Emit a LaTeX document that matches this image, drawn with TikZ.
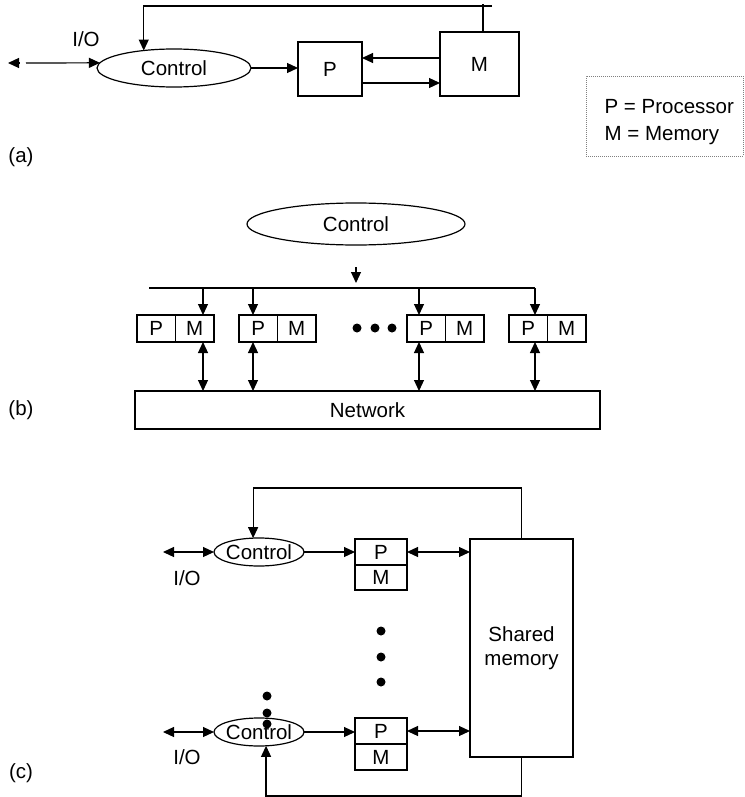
\documentclass[tikz,border=0pt]{standalone}
\usepackage{fontspec}
\setmainfont{Liberation Sans}
\usetikzlibrary{arrows.meta,shapes.geometric}
\begin{document}
\begin{tikzpicture}[x=1pt,y=-1pt,
  font=\fontsize{20.5}{24}\selectfont,
  line width=1.2pt,
  >={Triangle[length=11pt,width=10pt]},
  box/.style={draw, inner sep=0pt, outer sep=0pt},
  ctl/.style={ellipse, draw, inner sep=0pt, outer sep=0pt, label={center:Control}},
  dot/.style={circle, fill, inner sep=0pt, minimum size=9pt}]
\useasboundingbox (0,0) rectangle (744,797);

% ---------------- (a) single processor ----------------
\node[ctl, minimum width=154pt, minimum height=38pt] (ca) at (174,68) {};
\node[box, minimum width=64pt, minimum height=54pt] (pa) at (330,69) {P};
\node[box, minimum width=79pt, minimum height=64pt] (ma) at (479.5,64) {M};
\node (ioa) at (86,39) {I/O};
\node (la) at (21,157) {(a)};
\coordinate (ioatip) at (8,63);
\coordinate (ioabase) at (19,63);
\coordinate (ioastart) at (26,63);
\coordinate (fbend) at (492,6);
\draw[->] (ioabase) -- (ioatip);
\draw[->] (ioastart) -- (ca.176);
\draw[->] (ca.east) -- (ca.east -| pa.west);
\draw[->] ([yshift=6pt]ma.west) -- ([yshift=6pt]ma.west -| pa.east);
\draw[->] ([yshift=-19pt]ma.west -| pa.east) -- ([yshift=-19pt]ma.west);
\draw ([xshift=3.5pt]ma.north) -- ++(0,-28);
\draw[->] (fbend) -| (ca.150);

% key
\node[draw=gray, dash pattern=on 0.8pt off 1.2pt, line width=0.9pt,
      minimum width=157pt, minimum height=80pt, inner sep=0pt] (key) at (664.5,116) {};
\node[align=left, font=\fontsize{20.5}{27}\selectfont, anchor=west, inner sep=0pt]
      (keytext) at (604,122.3) {P = Processor\\M = Memory};

% ---------------- (b) array of PM pairs ----------------
\node[ctl, minimum width=218pt, minimum height=42pt] (cb) at (356,224) {};
\coordinate (cbstart) at (356,267);
\coordinate (cbtip) at (356,283);
\draw[->] (cbstart) -- (cbtip);
\coordinate (busl) at (149,288);
\coordinate (busr) at (535,288);
\draw (busl) -- (busr);
\foreach \i/\l in {1/137,2/239,3/407,4/509} {
  \node[box, minimum width=38.5pt, minimum height=27pt] (p\i) at (\l+19.25,328.5) {P};
  \node[box, minimum width=38.5pt, minimum height=27pt] (m\i) at (\l+57.75,328.5) {M};
}
\node[box, minimum width=465pt, minimum height=38pt] (net) at (367.5,410) {Network};
\foreach \n/\x in {m1/203, p2/253, p3/419, p4/535} {
  \coordinate (d\n) at (\x,288);
  \draw[->] (d\n) -- (d\n |- \n.north);
  \draw[<->] (d\n |- \n.south) -- (d\n |- net.north);
}
\node[dot] (db1) at (357,328) {};
\node[dot] (db2) at (375,328) {};
\node[dot] (db3) at (392,328) {};
\node (lb) at (21,410) {(b)};

% ---------------- (c) shared memory ----------------
\node[ctl, minimum width=90pt, minimum height=28pt] (c1) at (259,552) {};
\node[ctl, minimum width=90pt, minimum height=28pt] (c2) at (259,732) {};
\node[box, minimum width=52pt, minimum height=26pt] (p5) at (381,552) {P};
\node[box, minimum width=52pt, minimum height=25pt] (m5) at (381,577.5) {M};
\node[box, minimum width=52pt, minimum height=26pt] (p6) at (381,731) {P};
\node[box, minimum width=52pt, minimum height=26pt] (m6) at (381,757) {M};
\node[box, minimum width=103pt, minimum height=218pt, align=center,
      font=\fontsize{20.5}{24}\selectfont] (sh) at (521.5,648) {Shared\\memory};
\node (io5) at (187,578) {I/O};
\node (io6) at (187,757) {I/O};
\coordinate (io5end) at (163,552);
\coordinate (io6end) at (163,732);
\draw[<->] (io5end) -- (c1.west);
\draw[<->] (io6end) -- (c2.west);
\draw[->] (c1.east) -- (c1.east -| p5.west);
\draw[->] (c2.east) -- (c2.east -| p6.west);
\draw[<->] (p5.east) -- (p5.east -| sh.west);
\draw[<->] (p6.east) -- (p6.east -| sh.west);
\draw[->] (sh.north) -- ++(0,-51) -| (c1.113);
\draw[->] (sh.south) -- ++(0,39) -| (c2.297);
\node[dot] (dc1) at (381,631) {};
\node[dot] (dc2) at (381,657) {};
\node[dot] (dc3) at (381,682) {};
\node[dot] (dl1) at (267,696) {};
\node[dot] (dl2) at (267,713) {};
\node[dot] (dl3) at (267,724) {};
\node (lc) at (21,773) {(c)};
\end{tikzpicture}
\end{document}
